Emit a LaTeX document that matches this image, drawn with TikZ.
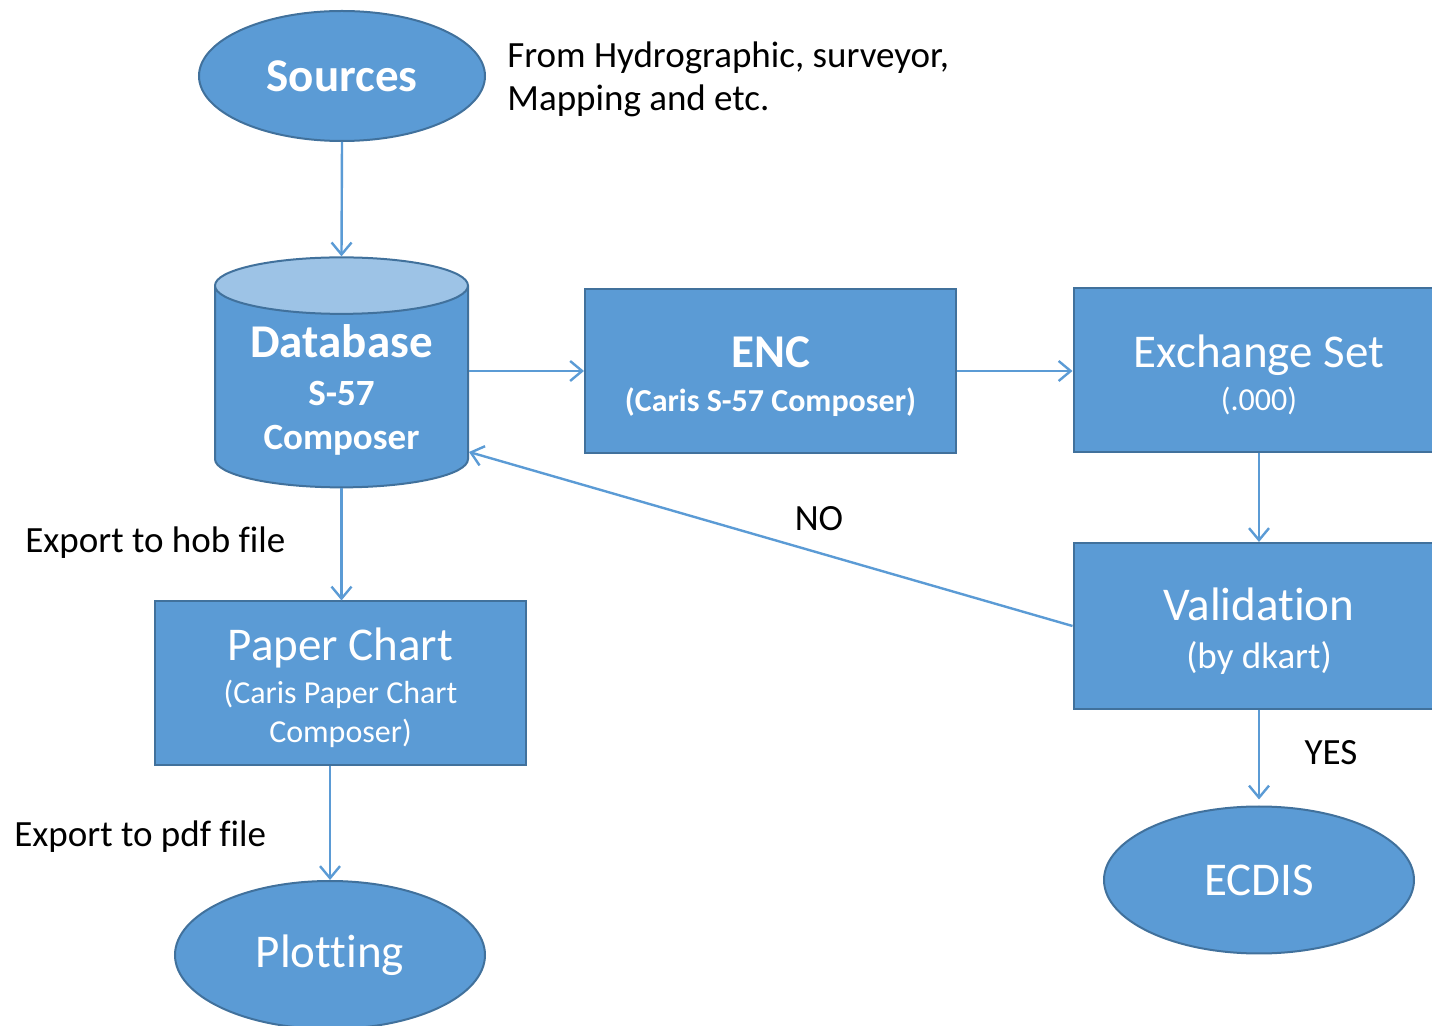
\documentclass[tikz,border=0pt]{standalone}
\usepackage{fontspec}
\setmainfont{Carlito}[Ligatures=NoCommon,Contextuals=NoAlternate]
\usetikzlibrary{shapes.geometric,arrows.meta}

\definecolor{boxblue}{HTML}{5B9BD5}
\definecolor{rimblue}{HTML}{41719C}
\definecolor{capblue}{HTML}{9DC3E6}

\newcommand\topgap{\rule{0pt}{21pt}}

\tikzset{
  blockbox/.style={rectangle, draw=rimblue, fill=boxblue, line width=1pt, text=white,
    align=center, minimum width=185.5pt, minimum height=82pt, inner sep=0pt},
  termoval/.style={ellipse, draw=rimblue, fill=boxblue, line width=1pt, text=white,
    align=center, inner sep=0pt},
  flow/.style={draw=boxblue, line width=1.2pt, -{Straight Barb[length=6pt,width=10pt]}},
  note/.style={text=black, font=\fontsize{18.5}{21.5}\selectfont, inner sep=0pt, align=left},
  bigfont/.style={font=\fontsize{23.5}{28}\selectfont}
}

\begin{document}
\begin{tikzpicture}[x=0.5pt,y=-0.5pt]
  \clip (0,0) rectangle (1432,1026);

  % start and end points
  \node[termoval, minimum width=143pt, minimum height=65pt, font=\bfseries\fontsize{23.5}{28}\selectfont] (src) at (342,76) {Sources};
  \node[termoval, minimum width=155pt, minimum height=73.5pt, bigfont] (ecdis) at (1259,880) {ECDIS};
  \node[termoval, minimum width=155pt, minimum height=74pt, bigfont] (plot) at (330,955) {Plotting};

  % database
  \node[cylinder, shape border rotate=90, aspect=0.31, draw=rimblue, line width=1pt,
    cylinder uses custom fill, cylinder body fill=boxblue, cylinder end fill=capblue,
    minimum width=126.5pt, minimum height=115pt, inner sep=0pt, text=white, align=center,
    font=\fontsize{18.5}{22}\selectfont] (db) at (341.5,387)
    {\bfseries\fontsize{23.5}{26}\selectfont\rule{0pt}{19pt}Database\\[2pt]
     \bfseries S-57\\
     \bfseries Composer};

  % process boxes
  \node[blockbox, font=\fontsize{16}{20}\selectfont] (enc) at (770.5,371)
    {\bfseries\fontsize{23.5}{26}\selectfont\topgap ENC\\[2pt]
     \bfseries (Caris S-57 Composer)};
  \node[blockbox, font=\fontsize{16}{20}\selectfont] (exs) at (1259,370)
    {\fontsize{23.5}{26}\selectfont\topgap Exchange Set\\[1.5pt]
     (.000)};
  \node[blockbox, minimum height=83pt, font=\fontsize{18.5}{22}\selectfont] (val) at (1259,626)
    {\fontsize{23.5}{26}\selectfont\topgap Validation\\[2pt]
     (by dkart)};
  \node[blockbox, font=\fontsize{16}{19.5}\selectfont] (paper) at (340.5,683.5)
    {\fontsize{23.5}{26}\selectfont\topgap Paper Chart\\[2pt]
     (Caris Paper Chart\\
     Composer)};

  % notes
  \node[note, anchor=west] (srcnote) at (507,79) {From Hydrographic, surveyor,\\Mapping and etc.};
  \node[note, anchor=west] (hobnote) at (25,543) {Export to hob file};
  \node[note, anchor=west] (pdfnote) at (14,837) {Export to pdf file};
  \node[note] (nonote) at (819,519) {NO};
  \node[note] (yesnote) at (1331,753) {YES};

  % connectors
  \draw[flow] (src.south) -- (db.north);
  \draw[flow] (db.east |- enc.west) -- (enc.west);
  \draw[flow] (enc.east) -- (enc.east -| exs.west);
  \draw[flow] (exs.south) -- (val.north);
  \draw[flow] (val.west) -- (db.-27.2);
  \draw[flow, shorten >=3pt] (val.south) -- (ecdis.north);
  \draw[flow] (db.south) -- (db.south |- paper.north);
  \draw[flow] (paper.south -| plot.north) -- (plot.north);
\end{tikzpicture}
\end{document}
